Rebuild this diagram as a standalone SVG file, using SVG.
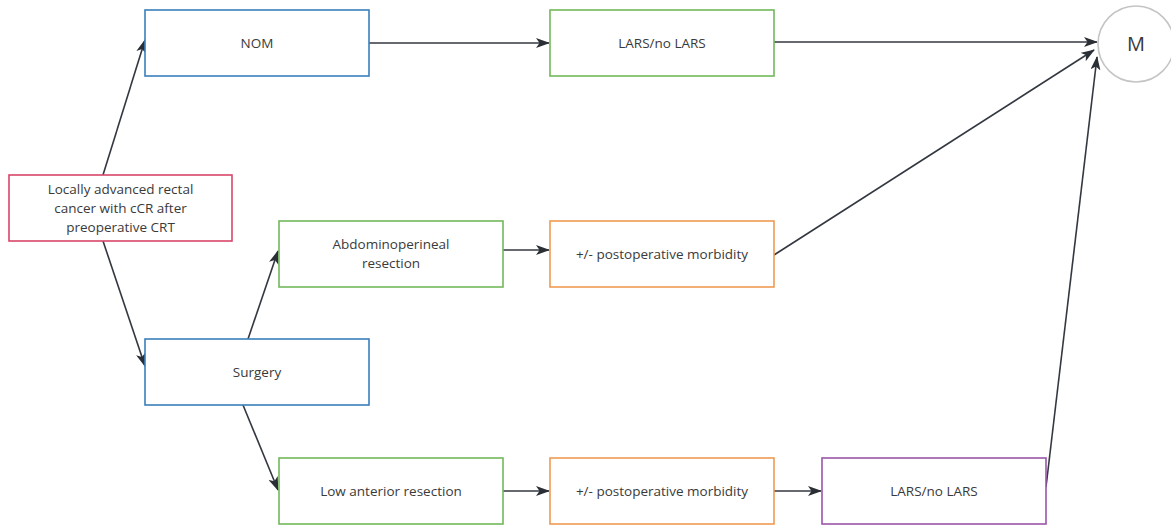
<svg xmlns="http://www.w3.org/2000/svg" width="1171" height="527" viewBox="0 0 1171 527">
  <style>
    .box { fill: #ffffff; stroke-width: 1.6; }
    .blue { stroke: #3a7fbd; }
    .red { stroke: #d8466a; }
    .green { stroke: #72b95a; }
    .orange { stroke: #ef9a52; }
    .purple { stroke: #9a56a8; }
    .lbl { font-family: "Open Sans", "Liberation Sans", sans-serif; font-size: 13.5px; fill: #3a3a3a; text-anchor: middle; dominant-baseline: central; }
    .edge { stroke: #333840; stroke-width: 1.6; fill: none; marker-end: url(#arrow); }
  </style>
  <defs>
    <marker id="arrow" viewBox="0 0 14 10" refX="13" refY="5" markerWidth="14" markerHeight="10" markerUnits="userSpaceOnUse" orient="auto">
      <path d="M0,0 L14,5 L0,10 L3.5,5 Z" fill="#2a2e35"/>
    </marker>
  </defs>
  <rect width="1171" height="527" fill="#ffffff"/>

  <g id="connectors">
    <line class="edge" x1="103" y1="175" x2="145" y2="40"/>
    <line class="edge" x1="103" y1="241" x2="145" y2="366"/>
    <line class="edge" x1="248" y1="339" x2="278" y2="251"/>
    <line class="edge" x1="243" y1="405" x2="278" y2="490"/>
    <line class="edge" x1="369" y1="43" x2="549" y2="43"/>
    <line class="edge" x1="503" y1="250" x2="549" y2="250"/>
    <line class="edge" x1="503" y1="491" x2="549" y2="491"/>
    <line class="edge" x1="774" y1="491" x2="821" y2="491"/>
    <line class="edge" x1="774" y1="42" x2="1097" y2="42"/>
    <line class="edge" x1="774" y1="255" x2="1094" y2="50"/>
    <line class="edge" x1="1046" y1="487" x2="1097" y2="57"/>
  </g>

  <g id="start">
    <rect class="box red" x="9" y="175" width="223" height="66"/>
    <text class="lbl" x="120.5" y="189">Locally advanced rectal</text>
    <text class="lbl" x="120.5" y="208">cancer with cCR after</text>
    <text class="lbl" x="120.5" y="227">preoperative CRT</text>
  </g>
  <g id="nom">
    <rect class="box blue" x="145" y="10" width="224" height="66"/>
    <text class="lbl" x="257" y="43">NOM</text>
  </g>
  <g id="lars-top">
    <rect class="box green" x="550" y="10" width="224" height="66"/>
    <text class="lbl" x="662" y="43">LARS/no LARS</text>
  </g>
  <g id="m">
    <circle cx="1136" cy="44" r="38" fill="#ffffff" stroke="#c4c4c4" stroke-width="1.6"/>
    <text class="lbl" x="1136" y="43" style="font-size:20px">M</text>
  </g>
  <g id="apr">
    <rect class="box green" x="279" y="221" width="224" height="66"/>
    <text class="lbl" x="391" y="244">Abdominoperineal</text>
    <text class="lbl" x="391" y="263">resection</text>
  </g>
  <g id="morbidity-apr">
    <rect class="box orange" x="550" y="221" width="224" height="66"/>
    <text class="lbl" x="662" y="254">+/- postoperative morbidity</text>
  </g>
  <g id="surgery">
    <rect class="box blue" x="145" y="339" width="224" height="66"/>
    <text class="lbl" x="257" y="372">Surgery</text>
  </g>
  <g id="lar">
    <rect class="box green" x="279" y="458" width="224" height="66"/>
    <text class="lbl" x="391" y="491">Low anterior resection</text>
  </g>
  <g id="morbidity-lar">
    <rect class="box orange" x="550" y="458" width="224" height="66"/>
    <text class="lbl" x="662" y="491">+/- postoperative morbidity</text>
  </g>
  <g id="lars-bottom">
    <rect class="box purple" x="822" y="458" width="224" height="66"/>
    <text class="lbl" x="934" y="491">LARS/no LARS</text>
  </g>
</svg>
